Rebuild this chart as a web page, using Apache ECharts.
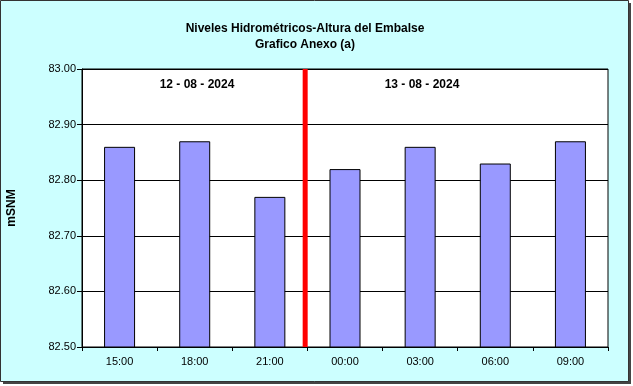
<!DOCTYPE html>
<html><head><meta charset="utf-8">
<script src="https://cdn.jsdelivr.net/npm/echarts@6/dist/echarts.min.js"></script>
<style>html,body{margin:0;padding:0;background:#fff}#c{width:633px;height:386px}</style>
</head><body><div id="c"></div>
<script>
const categories = ['15:00','18:00','21:00','00:00','03:00','06:00','09:00'];
const levels = [82.86, 82.87, 82.77, 82.82, 82.86, 82.83, 82.87];
const yTicks = [82.50, 82.60, 82.70, 82.80, 82.90, 83.00];
const dayLabels = ['12 - 08 - 2024', '13 - 08 - 2024'];
const dayChangeX = 2.97;

const chart = echarts.init(document.getElementById('c'), null, {renderer:'canvas'});
chart.setOption({
  animation:false,
  backgroundColor:'#fff',
  title:{text:'Niveles Hidrométricos-Altura del Embalse\nGrafico Anexo (a)', left:300, top:16, textAlign:'center',
    textStyle:{fontFamily:'Liberation Sans, Arial', fontSize:12, fontWeight:'bold', color:'#000', lineHeight:16}},
  graphic:[
    {type:'rect', z:-10, shape:{x:3,y:3,width:628,height:381}, style:{fill:'#444'}},
    {type:'rect', z:-9, shape:{x:0.5,y:0.5,width:628,height:381}, style:{fill:'#CCFFFF', stroke:'#333', lineWidth:1}},
    {type:'text', rotation:Math.PI/2, style:{text:'mSNM', fill:'#000', font:'bold 12px "Liberation Sans", Arial', textAlign:'center', textVerticalAlign:'middle'}, x:12, y:208},
    {type:'text', z:50, style:{text:dayLabels[0], x:197, y:85, fill:'#000', font:'bold 12px "Liberation Sans", Arial', textAlign:'center', textVerticalAlign:'middle'}},
    {type:'text', z:50, style:{text:dayLabels[1], x:422, y:85, fill:'#000', font:'bold 12px "Liberation Sans", Arial', textAlign:'center', textVerticalAlign:'middle'}}
  ],
  grid:{left:82, top:69, width:526, height:278, show:true, backgroundColor:'#fff', borderColor:'#000', borderWidth:1},
  xAxis:[{type:'category', data:categories, boundaryGap:true,
    axisLine:{lineStyle:{color:'#000'}}, axisTick:{show:true, length:4, alignWithLabel:false, lineStyle:{color:'#000'}},
    axisLabel:{fontFamily:'Liberation Sans, Arial', fontSize:11, color:'#000', margin:9}},
    {type:'value', min:0, max:7, show:false, position:'bottom'}],
  yAxis:{type:'value', min:82.5, max:83.0, interval:0.1,
    axisLine:{show:true, lineStyle:{color:'#000'}}, axisTick:{show:true, length:5, lineStyle:{color:'#000'}},
    splitLine:{show:true, lineStyle:{color:'#000', width:1}},
    axisLabel:{fontFamily:'Liberation Sans, Arial', fontSize:11, color:'#000', margin:6, formatter:v=>v.toFixed(2)}},
  series:[
    {type:'bar', data:levels, barWidth:31, itemStyle:{color:'#9999FF', borderColor:'#000', borderWidth:1}},
    {type:'line', xAxisIndex:1, data:[[dayChangeX,82.5],[dayChangeX,83.0]], symbol:'none', z:10,
     lineStyle:{color:'#FF0000', width:5}}
  ]
});
</script></body></html>
